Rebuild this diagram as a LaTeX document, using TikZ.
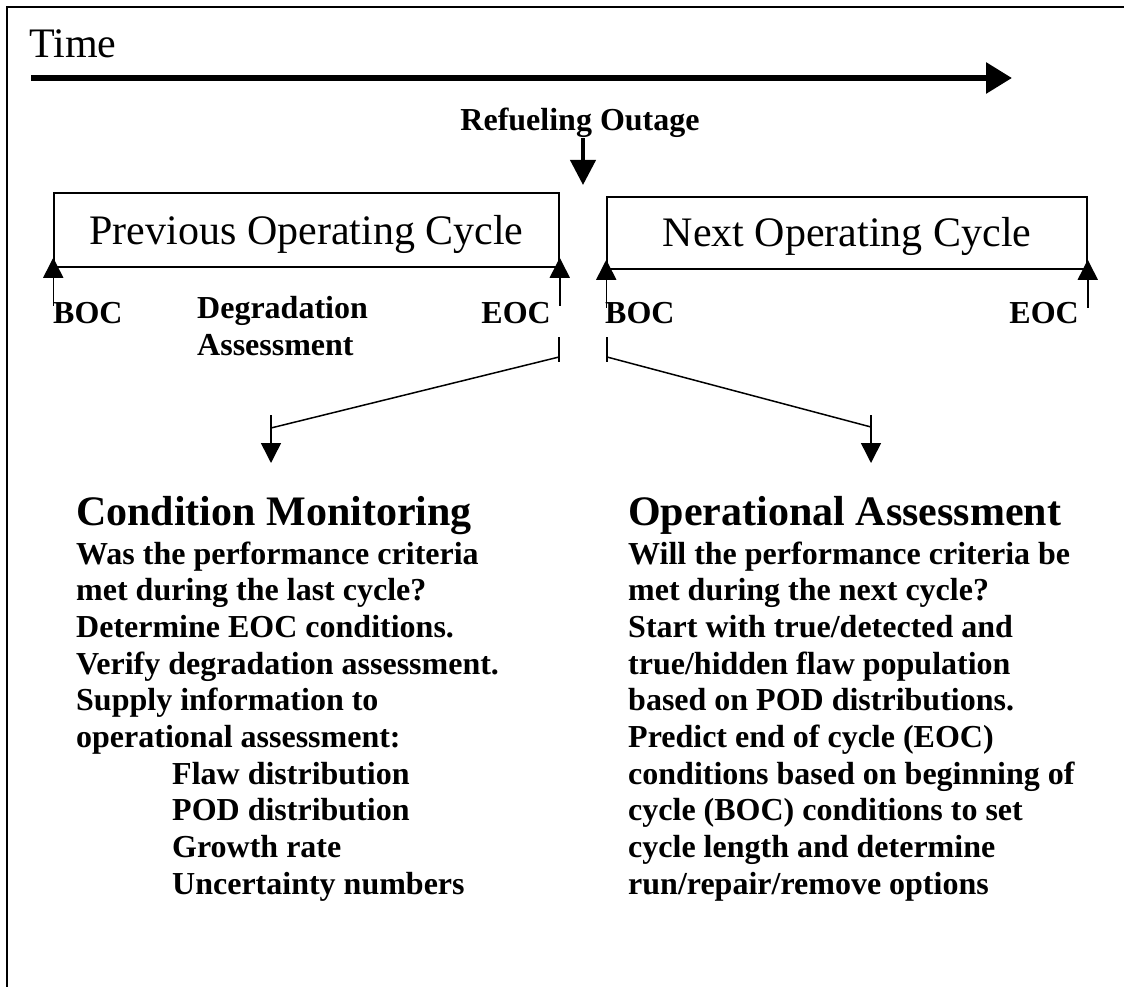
\documentclass[tikz,border=0pt]{standalone}
\usepackage{fontspec}
\setmainfont{Liberation Serif}
\usetikzlibrary{arrows.meta}

\begin{document}
\begin{tikzpicture}[%
	x=1pt, y=-1pt,
	every node/.style={inner sep=0pt},
	cyclebox/.style={
		draw, line width=1.5pt,
		minimum height=74pt,
		% center the box on the capitals
		text height=28pt, text depth=0pt,
		font=\fontsize{42}{48}\selectfont,
	},
	tag/.style={font=\fontsize{32}{37}\bfseries\selectfont},
	headline/.style={font=\fontsize{42}{48}\bfseries\selectfont, anchor=base west},
	bodyline/.style={font=\fontsize{32}{37}\bfseries\selectfont, anchor=base west},
	cycletick/.style={line width=1.5pt},
	pointer/.style={line width=1.5pt, -{Triangle[length=20pt,width=20pt]}},
	]
	\useasboundingbox (0,0) rectangle (1124,987);
	
	% draw frame (top and left side)
	\draw[line width=2pt, line join=miter] (1140,7) -- (7,7) -- (7,1000);
	
	% draw time axis
	\node[anchor=base west, font=\fontsize{42}{48}\selectfont] (time) at (29,58) {Time};
	\coordinate (t0) at (31,78);
	\coordinate (t1) at (1012,78);
	\draw[line width=6pt, -{Triangle[length=26pt,width=30pt]}] (t0) -- (t1);
	
	% refueling outage marker
	\node[tag, anchor=base] (outage) at (580,131) {Refueling Outage};
	\coordinate (outagetip) at (583,185);
	\draw[line width=4pt, -{Triangle[length=25pt,width=25pt]}] (outage.south -| outagetip) -- (outagetip);
	
	% place operating cycles
	\node[cyclebox, minimum width=505pt] (prev) at (306.5,230) {Previous Operating Cycle};
	\node[cyclebox, minimum width=480pt, minimum height=72pt] (next) at (847,233) {Next Operating Cycle};
	
	% draw BOC/EOC marks
	\foreach \c in {prev.south west, prev.south east, next.south west, next.south east}{
		\draw[pointer] ([yshift=-38pt]\c) -- ([yshift=10pt]\c);
	}
	
	\node[tag, anchor=base west] (boc1) at (53,323) {BOC};
	\node[tag, anchor=base east] (eoc1) at (551,323) {EOC};
	\node[tag, anchor=base west] (boc2) at (605,323) {BOC};
	\node[tag, anchor=base east] (eoc2) at (1079,323) {EOC};
	
	\node[tag, anchor=base west] (degr) at (197,318) {Degradation};
	\node[tag, anchor=base west] (assess) at (197,355) {Assessment};
	
	% branch points
	\coordinate (eoc-top) at (559,337);
	\coordinate (eoc-bot) at (559,362);
	\coordinate (eoc-join) at (559,357);
	\coordinate (boc-top) at (607,337);
	\coordinate (boc-bot) at (607,362);
	\coordinate (boc-join) at (607,357);
	\coordinate (cm-top) at (271,415);
	\coordinate (cm-join) at (271,428);
	\coordinate (cm-tip) at (271,463);
	\coordinate (oa-top) at (871,415);
	\coordinate (oa-join) at (871,427);
	\coordinate (oa-tip) at (871,463);
	
	% draw branches
	\foreach \a/\b in {eoc/cm, boc/oa}{
		\draw[cycletick] (\a-top) -- (\a-bot);
		\draw[cycletick] (\a-join) -- (\b-join);
		\draw[pointer] (\b-top) -- (\b-tip);
	}
	
	% condition monitoring
	\node[headline] (cm) at (76,525) {Condition Monitoring};
	\foreach \x/\txt [count=\i] in {
		76/Was the performance criteria,
		76/met during the last cycle?,
		76/Determine EOC conditions.,
		76/Verify degradation assessment.,
		76/Supply information to,
		76/operational assessment:,
		172/Flaw distribution,
		172/POD distribution,
		172/Growth rate,
		172/Uncertainty numbers}{
		\node[bodyline] (cm\i) at (\x,{564+36.7*(\i-1)}) {\txt};
	}
	
	% operational assessment
	\node[headline] (oa) at (628,525) {Operational Assessment};
	\foreach \txt [count=\i] in {
		Will the performance criteria be,
		met during the next cycle?,
		Start with true/detected and,
		true/hidden flaw population,
		based on POD distributions.,
		Predict end of cycle (EOC),
		conditions based on beginning of,
		cycle (BOC) conditions to set,
		cycle length and determine,
		run/repair/remove options}{
		\node[bodyline] (oa\i) at (628,{564+36.7*(\i-1)}) {\txt};
	}
\end{tikzpicture}
\end{document}
